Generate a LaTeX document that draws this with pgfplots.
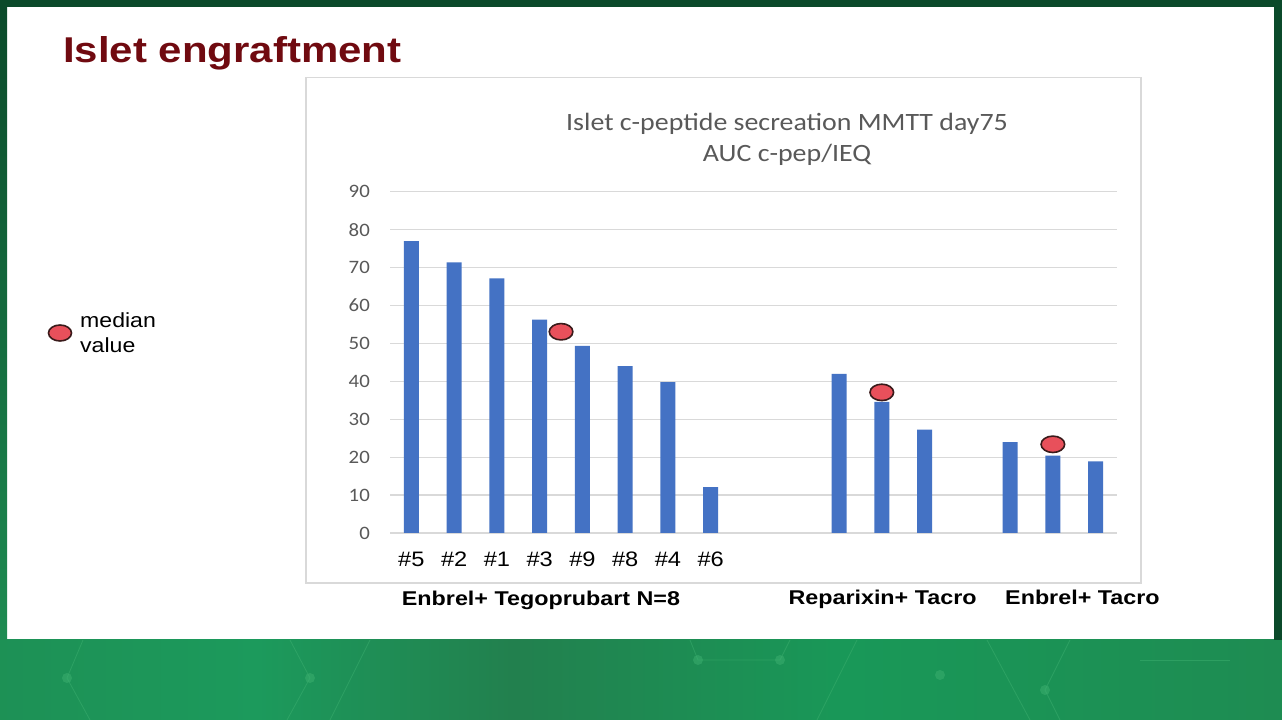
\documentclass[border=0pt]{standalone}
\usepackage{pgfplots}
\pgfplotsset{compat=1.18}
\usepackage{fontspec}
\setmainfont{Liberation Sans}
\newfontfamily\arialR[FakeStretch=1.13]{Liberation Sans}
\newfontfamily\arialB[FakeStretch=1.17]{Liberation Sans}
\newfontfamily\calS[FakeStretch=1.10]{Carlito}
\newfontfamily\calT[FakeStretch=1.12]{Carlito}
\definecolor{barblue}{HTML}{4472C4}
\definecolor{gridgrey}{HTML}{D9D9D9}
\definecolor{txtgrey}{HTML}{595959}
\definecolor{maroon}{RGB}{112,10,16}
\definecolor{mred}{HTML}{E8505B}
\definecolor{mdark}{HTML}{3A1A1A}
\definecolor{topgreen}{HTML}{0B4A2A}
\definecolor{g1}{HTML}{1C9A5C}
\definecolor{g2}{HTML}{1E8C52}
\definecolor{g3}{HTML}{22804E}
\definecolor{g4}{HTML}{199858}
\definecolor{g5}{HTML}{1E7A48}
\definecolor{glight}{HTML}{3DB070}
\pgfdeclarehorizontalshading{bottomgreen}{100bp}{color(0bp)=(g1); color(20bp)=(g2); color(35bp)=(g1); color(45bp)=(g3); color(58bp)=(g4); color(75bp)=(g2); color(88bp)=(g5); color(100bp)=(g1)}
\begin{document}
\begin{tikzpicture}[x=1bp,y=1bp]
\useasboundingbox (0,0) rectangle (1282,720);
% slide background
\fill[white] (0,0) rectangle (1282,720);
\shade[shading=bottomgreen] (0,0) rectangle (1282,80);
\begin{scope}[draw=glight, line width=0.8bp, opacity=0.5]
\draw (83,80) -- (67,42) -- (90,0);
\draw (290,80) -- (310,42) -- (287,0);
\draw (370,80) -- (330,0);
\draw (690,80) -- (698,60) -- (780,60) -- (790,80);
\draw (857,80) -- (817,0);
\draw (987,80) -- (1030,0);
\draw (1070,80) -- (1045,30) -- (1060,0);
\draw (1140,60) -- (1230,60);
\fill[glight] (67,42) circle (5) (310,42) circle (5) (698,60) circle (5) (780,60) circle (5) (940,45) circle (5) (1045,30) circle (5);
\end{scope}
\fill[topgreen] (0,713) rectangle (1282,720);
\shade[top color=topgreen, bottom color=g2] (0,80) rectangle (7,713);
\fill[topgreen] (1274,80) rectangle (1282,713);
% slide title
\node[anchor=base west, inner sep=0pt, text=maroon, font=\arialB\bfseries\fontsize{36}{40}\selectfont] at (63,657.3) {Islet engraftment};
% median legend
\draw[fill=mred, draw=mdark, line width=1.6bp] (60,387) ellipse (11.5 and 8);
\node[anchor=base west, inner sep=0pt, font=\arialR\fontsize{20.5}{24}\selectfont] at (80,392) {median};
\node[anchor=base west, inner sep=0pt, font=\arialR\fontsize{20.5}{24}\selectfont] at (80,367) {value};
% chart area
\draw[gridgrey, line width=1.2bp] (306,137) rectangle (1141,642.3);
\node[anchor=center, inner sep=0pt, text=txtgrey, font=\calT\fontsize{25}{28}\selectfont] at (787,596.5) {Islet c-peptide secreation MMTT day75};
\node[anchor=center, inner sep=0pt, text=txtgrey, font=\calT\fontsize{25}{28}\selectfont] at (787,565) {AUC c-pep/IEQ};
\begin{axis}[
  at={(390bp,187bp)}, anchor=south west,
  width=727bp, height=341.1bp, scale only axis,
  xmin=-0.5, xmax=16.5, ymin=0, ymax=90,
  ytick={0,10,...,90},
  xtick={0,1,2,3,4,5,6,7},
  xticklabels={\#5,\#2,\#1,\#3,\#9,\#8,\#4,\#6},
  ymajorgrids, grid style={gridgrey, line width=1.2bp},
  axis line style={draw=none}, major tick length=0pt,
  /pgf/number format/assume math mode=true,
  yticklabel style={font=\calS\fontsize{19}{22}\selectfont, text=txtgrey, inner sep=0pt, anchor=east, xshift=-20bp},
  xticklabel style={font=\arialR\fontsize{21}{24}\selectfont, text=black, inner sep=0pt, anchor=base, yshift=-33.5bp},
  clip=false,
]
\addplot[ybar, bar width=15bp, bar shift=0pt, fill=barblue, draw=none] coordinates {
  (0,77.0) (1,71.4) (2,67.2) (3,56.3) (4,49.4) (5,44.0) (6,39.8) (7,12.1)
  (10,42.0) (11,34.6) (12,27.3)
  (14,24.0) (15,20.4) (16,18.9)
};
\addplot[only marks, mark=*, mark size=8.2bp, mark options={xscale=1.44, fill=mred, draw=mdark, line width=1.6bp}] coordinates {
  (3.5,53.1) (11,37.1) (15,23.4)
};
\end{axis}
% group labels
\node[anchor=base west, inner sep=0pt, font=\arialB\bfseries\fontsize{20}{24}\selectfont] at (401.7,114) {Enbrel+ Tegoprubart N=8};
\node[anchor=base west, inner sep=0pt, font=\arialB\bfseries\fontsize{20}{24}\selectfont] at (788.3,115) {Reparixin+ Tacro};
\node[anchor=base west, inner sep=0pt, font=\arialB\bfseries\fontsize{20}{24}\selectfont] at (1005,115) {Enbrel+ Tacro};
\end{tikzpicture}
\end{document}
